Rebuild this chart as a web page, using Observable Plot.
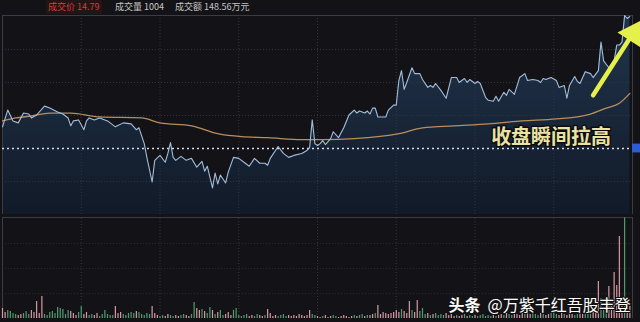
<!DOCTYPE html>
<html><head><meta charset="utf-8">
<script src="https://cdn.jsdelivr.net/npm/d3@7"></script>
<script src="https://cdn.jsdelivr.net/npm/@observablehq/plot@0.6"></script>
<style>
html,body{margin:0;padding:0;background:#131317;}
#wrap{position:relative;width:640px;height:322px;overflow:hidden;background:#131317;font-family:"Noto Sans CJK SC","DejaVu Sans",sans-serif;}
#hdr{position:absolute;left:0;top:0;width:640px;height:13px;font-size:9px;line-height:14px;color:#c4c4c4;}
#hdr span{position:absolute;top:0;white-space:nowrap;}
#hdr span.hot{color:#d43c3c;background:#241416;padding:0 2px;}
#price{position:absolute;left:0;top:0;}
#vol{position:absolute;left:0;top:214px;}
svg{display:block;overflow:visible;}
</style></head>
<body>
<div id="wrap"><div id="hdr"></div><div id="price"></div><div id="vol"></div></div>
<script>
// ---- data ----
const headerLabels = ["成交价", "成交量", "成交额"];
const headerValues = ["14.79", "1004", "148.56万元"];
const prevClose = 13.45;
const priceRange = [12.78, 14.80];
const gridPrices = [13.115, 13.785, 14.12, 14.455];
const gridMinutes = [30, 60, 90, 120, 150, 180, 210];

const priceMin = [
  0,2,4,6,8,10,11,13,16,18,
  21,23,25,26,27,29,31,32,33,35,
  37,40,43,46,49,51,52,54,55,57,
  58,60,62,63,64,65,66,68,70,72,
  74,76,77,78,80,81,82,83,85,86,
  88,90,92,94,96,98,100,101,102,104,
  105,107,109,111,114,116,117,118,119,120,
  121,122,123,125,126,128,130,132,134,135,
  136,138,139,140,141,142,143,146,147,149,
  150,151,152,153,154,156,157,159,160,162,
  163,164,165,167,169,171,173,174,176,177,
  178,180,181,182,184,185,187,188,189,191,
  192,193,195,197,199,200,202,204,205,206,
  207,209,211,212,214,215,216,218,219,220,
  222,224,225,227,228,229,231,233,234,235,
  236,237,238,239
];
const priceVal = [
  13.67,13.84,13.73,13.71,13.81,13.80,13.76,13.79,13.88,13.86,
  13.82,13.80,13.76,13.68,13.73,13.74,13.64,13.73,13.76,13.74,
  13.76,13.73,13.67,13.71,13.70,13.64,13.66,13.50,13.36,13.11,
  13.33,13.38,13.31,13.40,13.51,13.36,13.33,13.37,13.33,13.35,
  13.26,13.32,13.22,13.27,13.05,13.20,13.09,13.18,13.10,13.21,
  13.36,13.35,13.31,13.27,13.35,13.30,13.30,13.28,13.35,13.43,
  13.47,13.40,13.36,13.38,13.40,13.43,13.46,13.74,13.50,13.48,
  13.50,13.53,13.49,13.55,13.62,13.56,13.66,13.79,13.84,13.81,
  13.83,13.81,13.83,13.80,13.86,13.86,13.77,13.77,13.84,13.89,
  13.89,14.14,14.24,14.05,14.12,14.27,14.21,14.21,14.15,14.07,
  14.09,14.07,14.11,14.04,13.96,14.17,14.17,14.12,14.16,14.12,
  14.15,14.11,14.13,14.11,13.97,13.94,13.93,13.98,13.93,14.02,
  13.99,14.05,14.00,14.17,14.21,14.14,14.15,14.14,14.12,14.16,
  14.15,14.17,14.14,14.07,14.09,13.96,14.09,14.18,14.13,14.11,
  14.23,14.21,14.17,14.24,14.53,14.34,14.27,14.34,14.50,14.50,
  14.53,14.80,14.77,14.79
];
const avgMin = [0,5,11,18,26,37,53,60,72,82,91,101,114,122,134,151,160,172,185,198,211,224,230,235,239];
const avgVal = [13.73,13.76,13.78,13.81,13.81,13.77,13.76,13.71,13.68,13.60,13.57,13.56,13.54,13.54,13.55,13.60,13.66,13.68,13.70,13.73,13.75,13.80,13.86,13.91,14.01];

const volumes = [
  100,60,80,70,50,40,30,40,50,70,
  40,80,60,170,50,220,40,30,60,70,
  50,110,100,90,40,80,70,50,30,60,
  120,40,60,30,40,30,50,20,40,80,
  40,30,30,120,50,60,40,30,50,60,
  50,70,60,40,30,50,40,120,50,30,
  20,30,20,40,30,20,30,20,30,40,
  30,20,40,160,100,80,90,70,50,110,
  80,40,60,80,30,40,60,30,80,100,
  30,20,30,40,20,30,20,40,30,20,
  30,90,50,20,30,20,30,40,20,30,
  20,30,20,40,30,20,30,80,40,30,
  20,10,20,30,10,20,30,20,10,20,
  30,20,10,20,30,20,30,40,20,30,
  30,40,50,130,40,60,50,40,50,60,
  80,60,90,70,50,170,80,60,180,70,
  100,40,50,30,40,50,30,40,30,50,
  30,40,20,30,20,30,40,20,30,20,
  30,20,30,40,20,30,20,30,20,30,
  40,30,50,40,30,50,40,30,50,40,
  50,40,60,40,30,50,40,30,40,50,
  80,40,30,50,40,30,50,40,30,40,
  50,40,60,50,40,60,80,370,200,90,
  160,320,150,460,330,820,200,1004,150,120
];
const volMax = 1010;
const volGrid = [250, 500, 750];

const annotation = {t: 209, p: 13.565, text: "收盘瞬间拉高"};
const arrowTail = {t: 225, p: 13.99};
const arrowTip = {t: 240.2, p: 14.62};
const watermarkBrand = {t: 169.9, v: 130, text: "头条"};
const watermarkUser = {t: 184.8, v: 130, text: "@万紫千红吾股丰登"};

// ---- header ----
const hdr = document.getElementById("hdr");
const hdrLeft = [46, 115, 175];
headerLabels.forEach((l, i) => {
  const s = document.createElement("span");
  s.textContent = l + " " + headerValues[i];
  s.style.left = hdrLeft[i] + "px";
  if (i === 0) s.className = "hot";
  hdr.appendChild(s);
});

// ---- tables ----
const priceData = priceMin.map((t, i) => ({t, p: priceVal[i]}));
const avgData = avgMin.map((t, i) => ({t, p: avgVal[i]}));
function isUp(t) {
  let i = 0;
  while (i < priceMin.length - 2 && priceMin[i + 1] <= t) i++;
  return priceVal[i + 1] >= priceVal[i];
}
const volData = volumes.map((v, t) => ({t, v, up: isUp(t)}));

const W = 640, ML = 2, MR = 8;
const gridStroke = "#34343c";

const defs = () => {
  const g = d3.create("svg:g");
  const lg = g.append("defs").append("linearGradient").attr("id", "pg")
    .attr("gradientUnits", "userSpaceOnUse").attr("x1", 0).attr("x2", 0).attr("y1", 15).attr("y2", 214);
  lg.append("stop").attr("offset", 0).attr("stop-color", "#21344c");
  lg.append("stop").attr("offset", 1).attr("stop-color", "#111a28");
  return g.node();
};

// screen-space arrow direction for head rotation (x: 2.625 px/min, y: ~98.5 px/unit)
const pxX = 630 / 240, pxY = 199 / (priceRange[1] - priceRange[0]);
const arrowAngle = Math.atan2((arrowTip.t - arrowTail.t) * pxX, (arrowTip.p - arrowTail.p) * pxY) * 180 / Math.PI;

const pricePlot = Plot.plot({
  width: W, height: 214, marginLeft: ML, marginRight: MR, marginTop: 15, marginBottom: 0,
  style: {background: "transparent"},
  x: {domain: [0, 240], axis: null},
  y: {domain: priceRange, axis: null},
  marks: [
    defs,
    Plot.areaY(priceData, {x: "t", y1: priceRange[0], y2: "p", fill: "url(#pg)"}),
    Plot.ruleY(gridPrices, {stroke: gridStroke, strokeDasharray: "1,2", strokeWidth: 1}),
    Plot.ruleX(gridMinutes, {y1: priceRange[0], y2: priceRange[1], stroke: gridStroke, strokeDasharray: "1,2"}),
    Plot.ruleY([priceRange[1]], {stroke: "#3c3c44"}),
    Plot.ruleX([0, 240], {y1: priceRange[0], y2: priceRange[1], stroke: "#3c3c44"}),
    Plot.ruleY([prevClose], {stroke: "#d8dce8", strokeDasharray: "2,3", strokeWidth: 1.6}),
    Plot.rect([prevClose], {x1: 240, x2: 243.1, y1: d => d - 0.045, y2: d => d + 0.045, fill: "#2d5cd6"}),
    Plot.line(avgData, {x: "t", y: "p", stroke: "#b98d5c", strokeWidth: 1.3, curve: "monotone-x"}),
    Plot.line(priceData, {x: "t", y: "p", stroke: "#a3bcd8", strokeWidth: 1.1}),
    Plot.text([annotation], {x: "t", y: "p", text: "text", fontSize: 20, fontWeight: "bold",
      fontFamily: "Noto Sans CJK SC", fill: "#e9e2a2", stroke: "#0c0c10", strokeWidth: 3, paintOrder: "stroke"}),
    Plot.link([{a: arrowTail, b: arrowTip}], {x1: d => d.a.t, y1: d => d.a.p, x2: d => d.b.t, y2: d => d.b.p,
      stroke: "#e6f04a", strokeWidth: 4.5, strokeLinecap: "round"}),
    Plot.dot([arrowTip], {x: "t", y: "p", symbol: "triangle", r: 10, fill: "#e6f04a", stroke: "none", rotate: arrowAngle})
  ]
});
document.getElementById("price").appendChild(pricePlot);

const volPlot = Plot.plot({
  width: W, height: 108, marginLeft: ML, marginRight: MR, marginTop: 3, marginBottom: 4,
  style: {background: "transparent"},
  x: {domain: [0, 240], axis: null},
  y: {domain: [0, volMax], axis: null},
  marks: [
    Plot.ruleY(volGrid, {stroke: "#2a2a30", strokeDasharray: "1,2"}),
    Plot.ruleX(gridMinutes, {y1: 0, y2: volMax, stroke: gridStroke, strokeDasharray: "1,2"}),
    Plot.ruleY([volMax], {stroke: "#3c3c44"}),
    Plot.ruleX([0, 240], {y1: 0, y2: volMax, stroke: "#3c3c44"}),
    Plot.ruleX(volData, {x: "t", y1: 0, y2: "v", stroke: d => d.up ? "#d898a2" : "#4f9c70", strokeWidth: 1.2}),
    Plot.text([watermarkBrand], {x: "t", y: "v", text: "text", textAnchor: "start", fontSize: 16,
      fontWeight: "bold", fontFamily: "Noto Sans CJK SC", fill: "#ffffff", stroke: "#111", strokeWidth: 2, paintOrder: "stroke"}),
    Plot.text([watermarkUser], {x: "t", y: "v", text: "text", textAnchor: "start", fontSize: 16,
      fontWeight: "normal", fontFamily: "Noto Sans CJK SC", fill: "#ffffff", stroke: "#111", strokeWidth: 2, paintOrder: "stroke"})
  ]
});
document.getElementById("vol").appendChild(volPlot);
</script>
</body></html>
